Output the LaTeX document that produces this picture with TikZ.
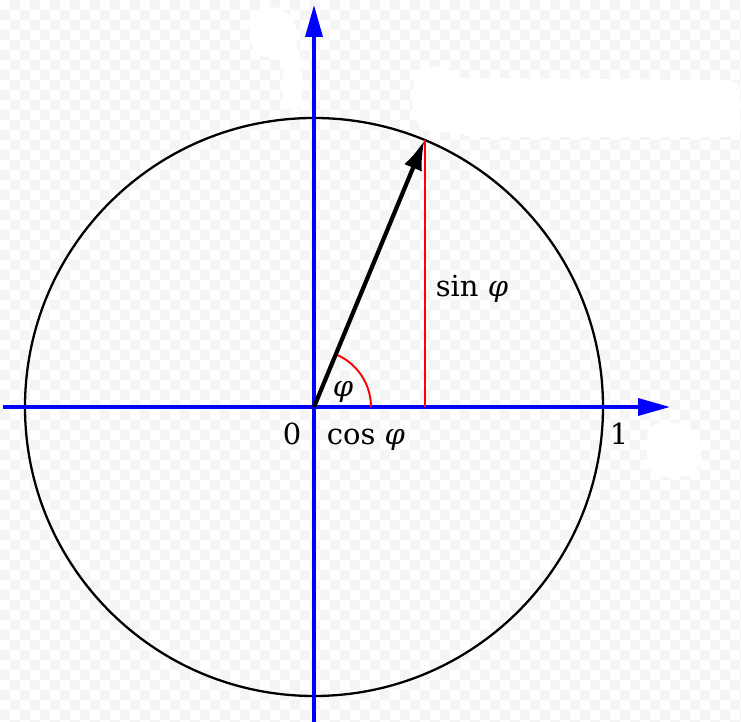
\documentclass[tikz,border=0pt]{standalone}
\usepackage{fontspec}
\setmainfont{DejaVu Serif}
\usetikzlibrary{positioning,arrows.meta,calc}
\begin{document}
\begin{tikzpicture}[x=0.02cm,y=0.02cm,
  checker/.style={fill=gray!8},
  blob/.style={fill=white,rounded corners=4pt},
  axis/.style={blue,line width=2pt,-{Triangle[length=0.64cm,width=0.34cm]}},
  unitcirc/.style={black,line width=1.3pt},
  radius/.style={black,line width=2.4pt,-{Latex[length=0.6cm,width=0.38cm]}},
  sinline/.style={red,line width=1.1pt},
  lbl/.style={font=\fontsize{16.5}{19}\selectfont,anchor=base,inner sep=0pt}]
\useasboundingbox (-314,-315) rectangle (427,407);
\clip (-314,-315) rectangle (427,407);
\begin{scope}[shift={(-314,407)},yscale=-1]
\fill[white] (0,0) rectangle (741,722);
\foreach \i in {0,...,74}{
  \pgfmathtruncatemacro{\ja}{mod(\i+1,2)}
  \pgfmathtruncatemacro{\jb}{\ja+2}
  \fill[checker] \foreach \j in {\ja,\jb,...,72} {(10*\i,10*\j) rectangle ++(10,10)};
}
\fill[blob] (250,15)--(262,6)--(282,8)--(295,20)--(298,55)--(302,60)--(302,108)--(290,112)--(283,105)--(282,60)--(258,55)--(250,45)--cycle;
\fill[blob] (414,75)--(428,66)--(447,68)--(458,78)--(735,80)--(740,88)--(740,132)--(733,137)--(470,137)--(455,131)--(438,133)--(420,128)--(412,112)--cycle;
\fill[blob] (646,440)--(650,426)--(665,421)--(688,425)--(700,440)--(702,462)--(690,476)--(662,478)--(648,468)--cycle;
\end{scope}
\coordinate (O) at (0,0);
\coordinate (xl) at (-311,0);
\coordinate (xr) at (356,0);
\coordinate (yb) at (0,-315);
\coordinate (yt) at (0,402);
\coordinate (P) at (67.5:289);
\coordinate (Px) at (P|-O);
\coordinate (A) at (57,0);
\draw[unitcirc] (O) circle (289);
\draw[axis] (xl)--(xr);
\draw[axis] (yb)--(yt);
\draw[sinline] (Px)--(P);
\draw[sinline] (A) arc (0:67.5:57);
\draw[radius] (O)--(P);
\node[lbl] (phi) at (29,10) {\textit{φ}};
\node[lbl] (zero) at (-22,-38) {0};
\node[lbl] (cos) at (52,-38) {cos \textit{φ}};
\node[lbl] (sin) at (158,110) {sin \textit{φ}};
\node[lbl] (one) at (305,-38) {1};
\end{tikzpicture}
\end{document}
